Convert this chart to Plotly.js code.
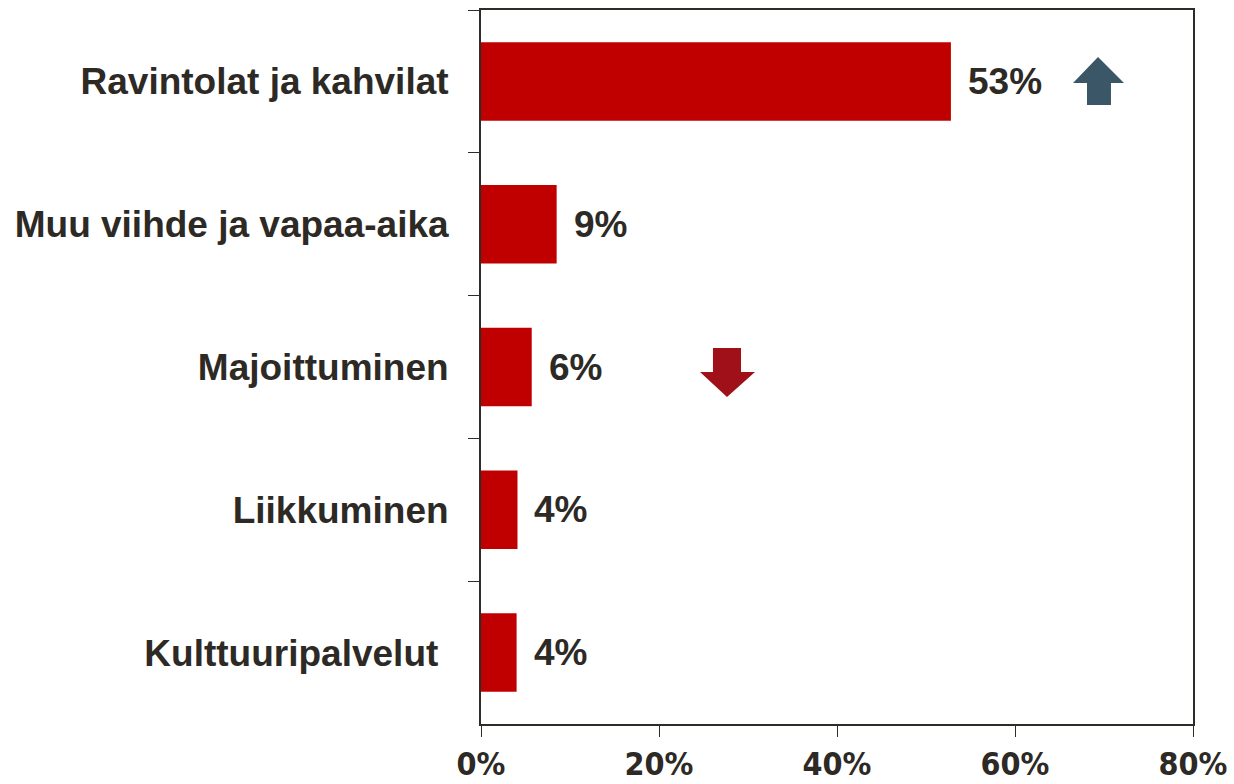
<!DOCTYPE html>
<html><head><meta charset="utf-8">
<script src="https://cdn.plot.ly/plotly-3.0.1.min.js"></script>
<style>html,body{margin:0;padding:0;background:#fff;}#chart{width:1234px;height:784px;}</style>
</head><body><div id="chart"></div>
<script>
const categories = ["Ravintolat ja kahvilat", "Muu viihde ja vapaa-aika", "Majoittuminen", "Liikkuminen", "Kulttuuripalvelut\u00A0"];
const values = [0.528, 0.085, 0.057, 0.041, 0.040];
const valueLabels = ["53%", "9%", "6%", "4%", "4%"];
const xTickVals = [0, 0.2, 0.4, 0.6, 0.8];
const xTickText = ["0%", "20%", "40%", "60%", "80%"];

const textColor = "#2d2a26";
const trace = {
  type: "bar", orientation: "h",
  x: values, y: categories,
  marker: {color: "#c00000"},
  width: 0.55,
  hoverinfo: "none"
};
const annotations = values.map((v, i) => ({
  x: v, y: categories[i], xref: "x", yref: "y",
  text: valueLabels[i], showarrow: false, xanchor: "left", xshift: 15,
  font: {family: "Liberation Sans, Arial, sans-serif", size: 37, color: textColor, weight: "bold"}
}));
const layout = {
  width: 1234, height: 784,
  margin: {l: 481, r: 41, t: 10, b: 60, pad: 0},
  paper_bgcolor: "#fff", plot_bgcolor: "#fff",
  showlegend: false,
  font: {family: "Liberation Sans, Arial, sans-serif", color: textColor},
  xaxis: {
    range: [0, 0.8], tickvals: xTickVals, ticktext: xTickText,
    showgrid: false, zeroline: false,
    showline: true, linecolor: "#2f2b26", linewidth: 2, mirror: true,
    ticks: "outside", ticklen: 11, tickcolor: "#2f2b26", tickwidth: 1,
    ticklabeloverflow: "allow",
    tickfont: {family: "DejaVu Sans Condensed, Liberation Sans Narrow, sans-serif", size: 32, color: textColor, weight: "bold"},
    fixedrange: true
  },
  yaxis: {
    autorange: "reversed", type: "category",
    showgrid: false, zeroline: false,
    showline: true, linecolor: "#2f2b26", linewidth: 2, mirror: true,
    ticks: "outside", tickson: "boundaries", ticklen: 11, tickcolor: "#2f2b26", tickwidth: 1,
    ticklabelstandoff: 23,
    tickfont: {family: "Liberation Sans, Arial, sans-serif", size: 37, color: textColor, weight: "bold"},
    fixedrange: true
  },
  annotations: annotations
};
const plotL = 481, plotW = 1234 - 481 - 41, plotT = 10, plotH = 784 - 10 - 60;
function px(x){return ((x - plotL)/plotW).toFixed(4);}
function py(y){return (1 - (y - plotT)/plotH).toFixed(4);}
function poly(pts){return "M " + pts.map(p => px(p[0]) + " " + py(p[1])).join(" L ") + " Z";}
layout.shapes = [
  {type: "path", xref: "paper", yref: "paper", layer: "above",
   path: poly([[1098,57],[1124,83],[1111,83],[1111,105],[1087,105],[1087,83],[1073,83]]),
   fillcolor: "#3b5667", line: {width: 0}},
  {type: "path", xref: "paper", yref: "paper", layer: "above",
   path: poly([[713,348],[741,348],[741,372],[755,372],[727,397],[700,372],[713,372]]),
   fillcolor: "#a01018", line: {width: 0}}
];
Plotly.newPlot("chart", [trace], layout, {displayModeBar: false, staticPlot: true});
</script></body></html>
